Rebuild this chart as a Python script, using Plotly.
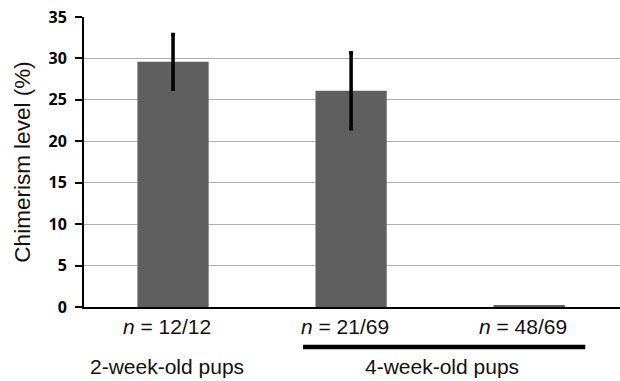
import plotly.graph_objects as go

categories = ["2wk", "4wk_pos", "4wk_neg"]
values = [29.6, 26.1, 0.2]
errors = [3.3, 4.6, None]
n_labels = ["<i>n</i> = 12/12", "<i>n</i> = 21/69", "<i>n</i> = 48/69"]
group_labels = ["2-week-old pups", "4-week-old pups"]
y_ticks = [0, 5, 10, 15, 20, 25, 30, 35]

xpos = list(range(len(categories)))

fig = go.Figure()
for i in xpos:
    err = dict(type="data", array=[errors[i]], visible=errors[i] is not None,
               color="black", thickness=3.5, width=2)
    fig.add_trace(go.Bar(
        x=[xpos[i]], y=[values[i]], width=0.4,
        marker=dict(color="#5f5f5f", line=dict(width=0)),
        error_y=err, showlegend=False,
    ))

label_font = dict(family="Liberation Sans, Arial, sans-serif", size=21, color="#111111")
annotations = []
for i, t in enumerate(n_labels):
    annotations.append(dict(x=xpos[i], y=0, xref="x", yref="paper", text=t,
                            showarrow=False, yanchor="middle", xanchor="center",
                            yshift=-19, xshift=-6, font=label_font))
annotations.append(dict(x=xpos[0], y=0, xref="x", yref="paper", text=group_labels[0],
                        showarrow=False, yanchor="middle", xanchor="center",
                        yshift=-59, xshift=-6, font=label_font))
annotations.append(dict(x=(xpos[1] + xpos[2]) / 2, y=0, xref="x", yref="paper",
                        text=group_labels[1], showarrow=False, yanchor="middle",
                        xanchor="center", yshift=-59, xshift=1.5, font=label_font))

fig.update_layout(
    width=620, height=381,
    margin=dict(l=84, r=0, t=17, b=74),
    paper_bgcolor="white", plot_bgcolor="white",
    barmode="overlay",
    annotations=annotations,
    shapes=[dict(type="line", xref="x", yref="paper",
                 x0=xpos[1] - 0.27, x1=xpos[2] + 0.315, y0=-0.1377, y1=-0.1377,
                 line=dict(color="black", width=4.5))],
    xaxis=dict(range=[-0.5, 2.51], showgrid=False, zeroline=False,
               showline=True, linecolor="black", linewidth=2,
               showticklabels=False, ticks=""),
    yaxis=dict(range=[0, 35], tickvals=y_ticks, showgrid=True,
               gridcolor="#b0b0b0", gridwidth=1, zeroline=False,
               showline=True, linecolor="black", linewidth=2,
               ticks="outside", ticklen=7, tickwidth=2, tickcolor="black",
               ticklabelstandoff=5,
               tickfont=dict(family="Open Sans, sans-serif", size=16, color="black", weight="bold"),
               title=dict(text="Chimerism level (%)", standoff=12,
                          font=dict(family="Liberation Sans, Arial, sans-serif", size=22.5, color="#111111"))),
)

fig.write_html("out.html", config={"displayModeBar": False},
               post_script="document.body.style.margin='0';")
